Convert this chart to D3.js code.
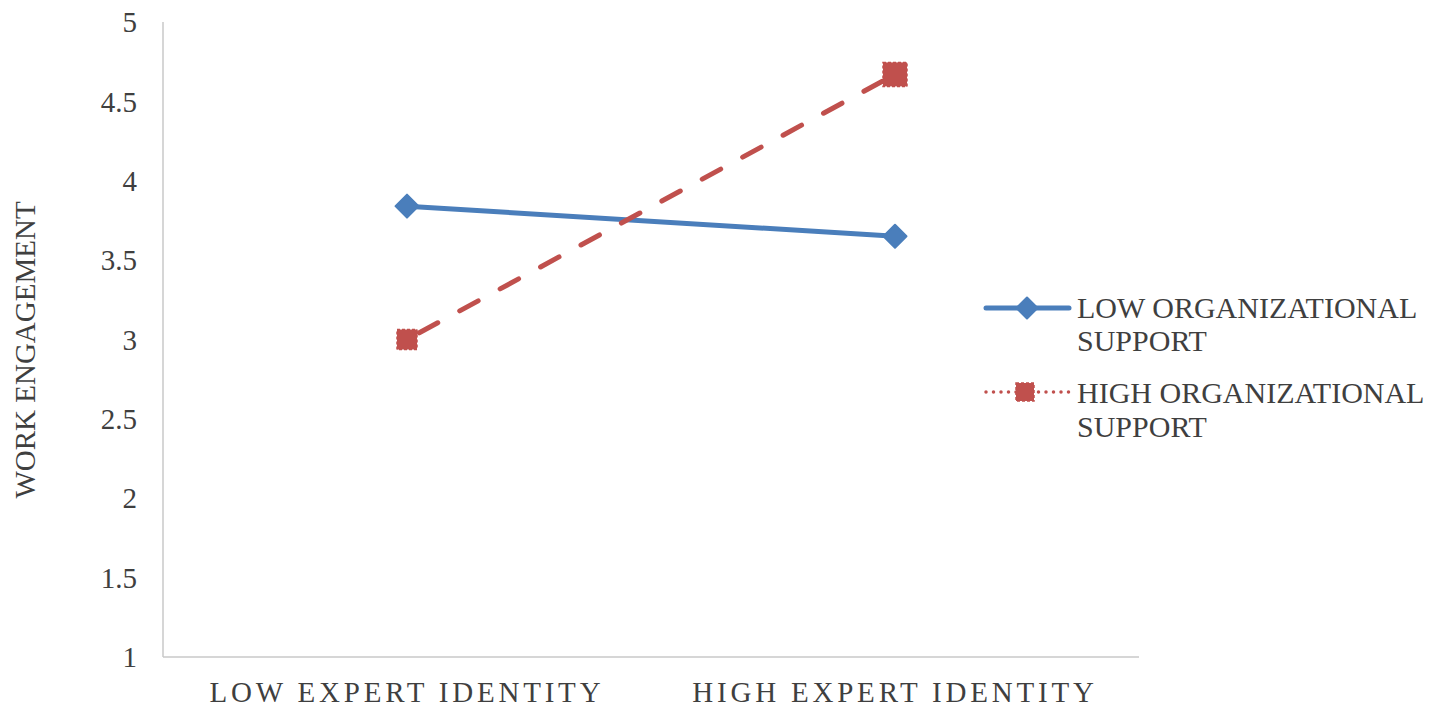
<!DOCTYPE html>
<html><head><meta charset="utf-8">
<script src="https://cdn.jsdelivr.net/npm/d3@7"></script>
<style>body{margin:0;background:#fff}svg{display:block}</style>
</head><body>
<script>
const categories = ["LOW EXPERT IDENTITY", "HIGH EXPERT IDENTITY"];
const seriesNames = ["LOW ORGANIZATIONAL SUPPORT", "HIGH ORGANIZATIONAL SUPPORT"];
const lowSupport = [3.84, 3.65];
const highSupport = [3.0, 4.67];
const yTicks = [1, 1.5, 2, 2.5, 3, 3.5, 4, 4.5, 5];

const W = 1429, H = 713;
const svg = d3.select("body").append("svg").attr("width", W).attr("height", H);
const font = "'Liberation Serif', 'Times New Roman', serif";
const txt = "#3f3f3f";

const x = d3.scaleBand().domain(categories).range([163, 1139]);
const y = d3.scaleLinear().domain([1, 5]).range([657, 22]);

// axes lines
svg.append("line").attr("x1", 163).attr("x2", 163).attr("y1", y(5)).attr("y2", y(1))
  .attr("stroke", "#c8c8c8").attr("stroke-width", 1.5);
svg.append("line").attr("x1", 163).attr("x2", 1139).attr("y1", y(1)).attr("y2", y(1))
  .attr("stroke", "#c8c8c8").attr("stroke-width", 1.5);

// y tick labels
svg.append("g").selectAll("text").data(yTicks).join("text")
  .attr("x", 137).attr("y", d => y(d)).attr("dy", "0.35em")
  .attr("text-anchor", "end").attr("font-family", font).attr("font-size", 29)
  .attr("fill", txt).text(d => d);

// x labels
svg.append("g").selectAll("text").data(categories).join("text")
  .attr("x", d => x(d) + x.bandwidth() / 2).attr("y", 702)
  .attr("text-anchor", "middle").attr("font-family", font).attr("font-size", 29)
  .attr("letter-spacing", "3.8px")
  .attr("fill", txt).text(d => d);

// y title
svg.append("text").attr("transform", "translate(35,350) rotate(-90)")
  .attr("text-anchor", "middle").attr("font-family", font).attr("font-size", 29)
  .attr("fill", txt).text("WORK ENGAGEMENT");

const blue = "#4a7ebb", red = "#c0504d";
const cx = d => x(d) + x.bandwidth() / 2;
const line = d3.line().x(d => cx(d.c)).y(d => y(d.v));
const lowData = categories.map((c, i) => ({c, v: lowSupport[i]}));
const highData = categories.map((c, i) => ({c, v: highSupport[i]}));

svg.append("path").datum(lowData).attr("d", line).attr("fill", "none")
  .attr("stroke", blue).attr("stroke-width", 5).attr("stroke-linecap", "round");
svg.append("path").datum(highData).attr("d", line).attr("fill", "none")
  .attr("stroke", red).attr("stroke-width", 5).attr("stroke-linecap", "round")
  .attr("stroke-dasharray", "21,25").attr("stroke-dashoffset", -14);

function diamond(g, px, py, s) {
  g.append("path").attr("d", `M${px},${py - s}L${px + s},${py}L${px},${py + s}L${px - s},${py}Z`)
    .attr("fill", blue).attr("stroke", blue).attr("stroke-width", 2).attr("stroke-linejoin", "round");
}
function square(g, px, py, s) {
  g.append("rect").attr("x", px - s).attr("y", py - s).attr("width", 2 * s).attr("height", 2 * s)
    .attr("fill", red).attr("stroke", red).attr("stroke-width", 1.5)
    .attr("stroke-dasharray", "3,2");
}
const mg = svg.append("g");
lowData.forEach(d => diamond(mg, cx(d.c), y(d.v), 11.5));
highData.forEach((d, i) => square(mg, cx(d.c), y(d.v), i === 0 ? 10 : 12));

// legend
const lg = svg.append("g");
lg.append("line").attr("x1", 986).attr("x2", 1069).attr("y1", 308).attr("y2", 308)
  .attr("stroke", blue).attr("stroke-width", 5).attr("stroke-linecap", "round");
diamond(lg, 1027, 308, 10.5);
lg.append("line").attr("x1", 986).attr("x2", 1069).attr("y1", 392).attr("y2", 392)
  .attr("stroke", red).attr("stroke-width", 3.5).attr("stroke-linecap", "round")
  .attr("stroke-dasharray", "0,7.5");
square(lg, 1025, 392, 9);
const legY = [[307, 340], [392, 426]];
const legLines = [["LOW ORGANIZATIONAL", "SUPPORT"], ["HIGH ORGANIZATIONAL", "SUPPORT"]];
legLines.forEach((ls, i) => {
  ls.forEach((t, j) => {
    lg.append("text").attr("x", 1077).attr("y", legY[i][j]).attr("dy", "0.35em")
      .attr("font-family", font).attr("font-size", 30).attr("fill", txt).text(t);
  });
});
</script>
</body></html>
